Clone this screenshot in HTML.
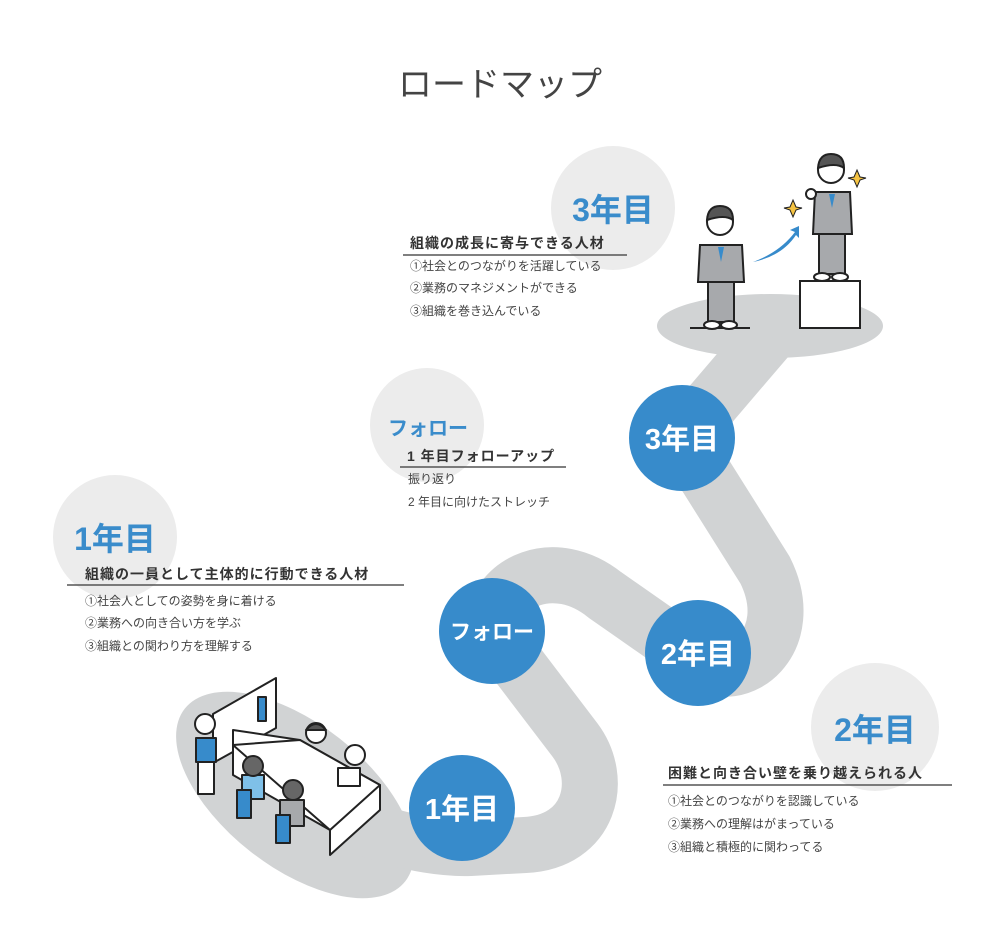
<!DOCTYPE html>
<html><head><meta charset="utf-8"><style>
body{margin:0;background:#fff;}
svg text{font-family:"Liberation Sans","Noto Sans CJK JP",sans-serif;}
</style></head><body>
<svg width="998" height="925" viewBox="0 0 998 925" xmlns="http://www.w3.org/2000/svg">
<circle cx="613" cy="208" r="62" fill="#ececec"/>
<circle cx="427" cy="425" r="57" fill="#ececec"/>
<circle cx="115" cy="537" r="62" fill="#ececec"/>
<circle cx="875" cy="727" r="64" fill="#ececec"/>
<ellipse cx="770" cy="326" rx="113" ry="32" fill="#d1d3d4"/>
<ellipse cx="295" cy="795" rx="140" ry="72" transform="rotate(38 295 795)" fill="#d1d3d4"/>
<path d="M300 800 Q400 850 470 848 L525 845 C590 842 605 780 575 740 L492 631 C495 580 555 555 605 595 L698 660 C740 690 800 640 765 570 L682 438 L770 335" fill="none" stroke="#d1d3d4" stroke-width="56" stroke-linejoin="round"/>
<g fill="#378bcb">
<circle cx="682" cy="438" r="53"/>
<circle cx="698" cy="653" r="53"/>
<circle cx="492" cy="631" r="53"/>
<circle cx="462" cy="808" r="53"/>
</g>
<g fill="#fff" font-weight="bold" text-anchor="middle">
<text x="682" y="449" font-size="29">3年目</text>
<text x="698" y="664" font-size="29">2年目</text>
<text x="492" y="639" font-size="21">フォロー</text>
<text x="462" y="819" font-size="29">1年目</text>
</g>
<text x="500" y="96" font-size="34" fill="#444" text-anchor="middle">ロードマップ</text>
<g fill="#3a8ccb" font-weight="bold" text-anchor="middle">
<text x="613" y="221" font-size="32">3年目</text>
<text x="428" y="435" font-size="20">フォロー</text>
<text x="115" y="550" font-size="32">1年目</text>
<text x="875" y="741" font-size="32">2年目</text>
</g>
<g fill="#333" font-size="14" font-weight="bold" letter-spacing="1">
<text x="410" y="248">組織の成長に寄与できる人材</text>
<text x="407" y="461">1 年目フォローアップ</text>
<text x="85" y="579">組織の一員として主体的に行動できる人材</text>
<text x="668" y="778">困難と向き合い壁を乗り越えられる人</text>
</g>
<g stroke="#555" stroke-width="1.5">
<line x1="403" y1="255" x2="627" y2="255"/>
<line x1="400" y1="467" x2="566" y2="467"/>
<line x1="67" y1="585" x2="404" y2="585"/>
<line x1="663" y1="785" x2="952" y2="785"/>
</g>
<g fill="#444" font-size="12">
<text x="410" y="270">①社会とのつながりを活躍している</text>
<text x="410" y="292">②業務のマネジメントができる</text>
<text x="410" y="315">③組織を巻き込んでいる</text>
<text x="408" y="483">振り返り</text>
<text x="408" y="506">2 年目に向けたストレッチ</text>
<text x="85" y="605">①社会人としての姿勢を身に着ける</text>
<text x="85" y="627">②業務への向き合い方を学ぶ</text>
<text x="85" y="650">③組織との関わり方を理解する</text>
<text x="668" y="805">①社会とのつながりを認識している</text>
<text x="668" y="828">②業務への理解はがまっている</text>
<text x="668" y="851">③組織と積極的に関わってる</text>
</g>
<g stroke="#222" stroke-width="2">
<line x1="690" y1="328" x2="750" y2="328"/>
<rect x="800" y="281" width="60" height="47" fill="#fff"/>
<rect x="708" y="280" width="26" height="42" fill="#a7a9ac"/>
<path d="M700 245 L742 245 L744 282 L698 282 Z" fill="#a7a9ac"/>
<circle cx="720" cy="222" r="13" fill="#fff"/>
<path d="M707 220 Q708 206 720 206 Q733 206 733 220 Q725 214 707 220Z" fill="#555"/>
<ellipse cx="712" cy="325" rx="8" ry="4" fill="#fff"/>
<ellipse cx="729" cy="325" rx="8" ry="4" fill="#fff"/>
<rect x="819" y="232" width="26" height="42" fill="#a7a9ac"/>
<path d="M815 192 L850 192 L852 234 L813 234 Z" fill="#a7a9ac"/>
<circle cx="831" cy="170" r="13" fill="#fff"/>
<path d="M818 168 Q819 154 831 154 Q844 154 844 168 Q836 162 818 168Z" fill="#555"/>
<circle cx="811" cy="194" r="5" fill="#fff"/>
<ellipse cx="822" cy="277" rx="8" ry="4" fill="#fff"/>
<ellipse cx="840" cy="277" rx="8" ry="4" fill="#fff"/>
</g>
<path d="M718 247 L721 262 L724 247Z M829 194 L832 208 L835 194Z" fill="#378bcb"/>
<path d="M753 262 Q780 252 795 232 L790 230 L799 226 L799 238 L796 235 Q782 256 753 262Z" fill="#378bcb"/>
<path d="M793 200 L796 207 L802 208 L796 210 L793 217 L790 210 L784 208 L790 207Z" fill="#f5c342" stroke="#222" stroke-width="1"/>
<path d="M857 170 L860 177 L866 178 L860 180 L857 187 L854 180 L848 178 L854 177Z" fill="#f5c342" stroke="#222" stroke-width="1"/>
<g stroke="#222" stroke-width="2" stroke-linejoin="round">
<path d="M213 714 L276 678 L276 728 L213 763Z" fill="#fff"/>
<rect x="258" y="697" width="8" height="24" fill="#378bcb"/>
<path d="M233 730 L300 740 L380 785 L380 810 L330 855 L330 830 L233 775Z" fill="#fff"/>
<path d="M233 745 L300 740 L380 785 L330 830Z" fill="#fff"/>
<rect x="196" y="738" width="20" height="24" fill="#378bcb"/>
<rect x="198" y="762" width="16" height="32" fill="#fff"/>
<circle cx="205" cy="724" r="10" fill="#fff"/>
<circle cx="316" cy="733" r="10" fill="#fff"/>
<path d="M306 730 Q316 718 326 730Z" fill="#555"/>
<rect x="338" y="768" width="22" height="18" fill="#fff"/>
<circle cx="355" cy="755" r="10" fill="#fff"/>
<rect x="242" y="775" width="22" height="24" fill="#7fc0e8"/>
<circle cx="253" cy="766" r="10" fill="#666"/>
<rect x="237" y="790" width="14" height="28" fill="#378bcb"/>
<rect x="280" y="800" width="24" height="26" fill="#a7a9ac"/>
<circle cx="293" cy="790" r="10" fill="#666"/>
<rect x="276" y="815" width="14" height="28" fill="#378bcb"/>
</g>
</svg>
</body></html>
